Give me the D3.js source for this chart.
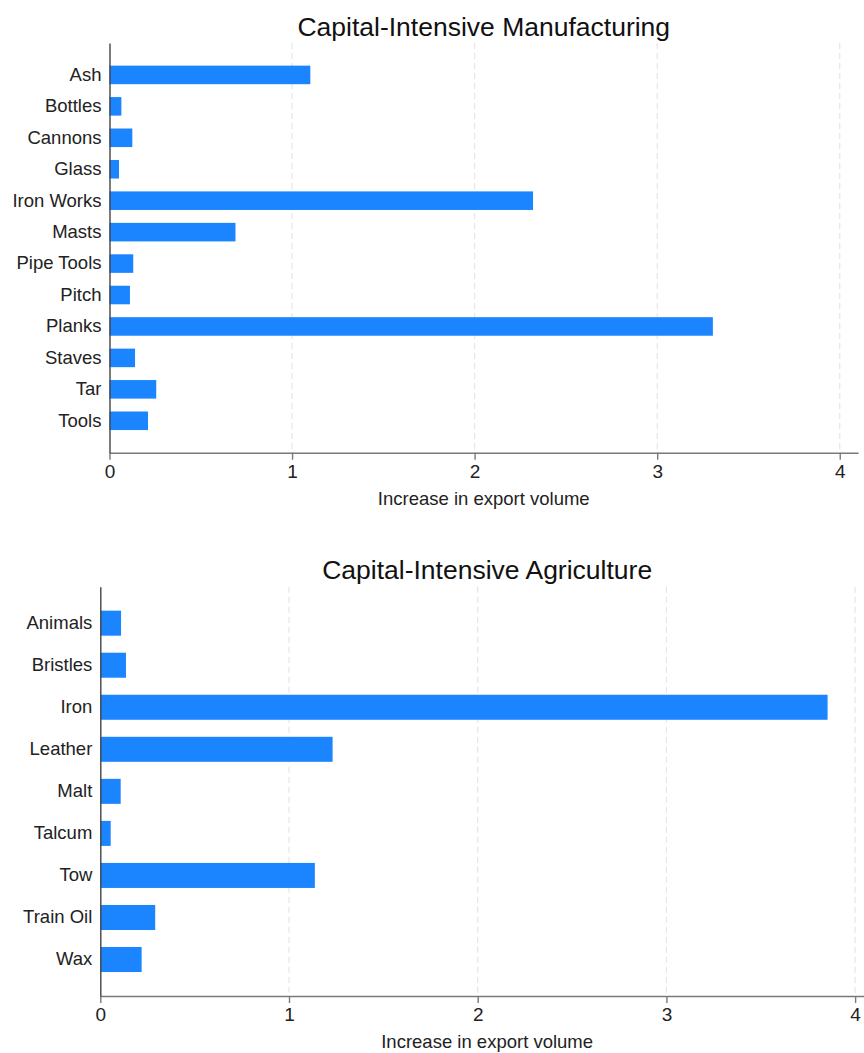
<!DOCTYPE html>
<html>
<head>
<meta charset="utf-8">
<script src="https://cdn.jsdelivr.net/npm/d3@7"></script>
<style>
  html, body { margin: 0; padding: 0; background: #fff; }
  svg { display: block; font-family: "Liberation Sans", Arial, sans-serif; }
</style>
</head>
<body>
<svg id="chart" width="864" height="1053"></svg>
<script>
// ---- Data ----
const manufCategories = ["Ash", "Bottles", "Cannons", "Glass", "Iron Works", "Masts", "Pipe Tools", "Pitch", "Planks", "Staves", "Tar", "Tools"];
const manufValues = [1.10, 0.065, 0.125, 0.052, 2.32, 0.69, 0.13, 0.112, 3.305, 0.14, 0.256, 0.211];

const agriCategories = ["Animals", "Bristles", "Iron", "Leather", "Malt", "Talcum", "Tow", "Train Oil", "Wax"];
const agriValues = [0.11, 0.136, 3.854, 1.231, 0.108, 0.055, 1.137, 0.291, 0.219];

const xTicks = [0, 1, 2, 3, 4];
const panelTitles = ["Capital-Intensive Manufacturing", "Capital-Intensive Agriculture"];
const xAxisTitle = "Increase in export volume";

// ---- Drawing ----
const svg = d3.select("#chart");
const barColor = "#1a85ff";

function panel(cfg) {
  const g = svg.append("g");
  const x = d3.scaleLinear().domain([0, 4.1]).range([cfg.left, cfg.right]);
  const y = d3.scaleBand().domain(cfg.categories).range([cfg.top, cfg.bottom])
    .paddingInner(cfg.pi).paddingOuter(cfg.po);

  // gridlines
  g.append("g").selectAll("line").data(xTicks.filter(d => d > 0)).join("line")
    .attr("x1", d => x(d)).attr("x2", d => x(d))
    .attr("y1", cfg.top).attr("y2", cfg.bottom)
    .attr("stroke", "#e6e6e6").attr("stroke-width", 1.2)
    .attr("stroke-dasharray", "6,4");

  // bars
  g.append("g").selectAll("rect").data(cfg.categories).join("rect")
    .attr("x", x(0))
    .attr("y", d => y(d))
    .attr("width", (d, i) => x(cfg.values[i]) - x(0))
    .attr("height", y.bandwidth())
    .attr("fill", barColor);

  // x axis
  const xAxis = d3.axisBottom(x).tickValues(xTicks).tickFormat(d3.format("d"))
    .tickSize(7).tickSizeOuter(0).tickPadding(5);
  const xa = g.append("g").attr("transform", `translate(0,${cfg.bottom})`).call(xAxis);
  xa.select(".domain").attr("stroke", "#7a7a7a").attr("stroke-width", 1.4);
  xa.selectAll(".tick line").attr("stroke", "#7a7a7a").attr("stroke-width", 1.4);
  xa.selectAll(".tick text").attr("font-size", 19).attr("fill", "#222")
    .attr("font-family", "Liberation Sans, Arial, sans-serif");

  // y axis
  const yAxis = d3.axisLeft(y).tickSize(0).tickPadding(8);
  const ya = g.append("g").attr("transform", `translate(${cfg.left},0)`).call(yAxis);
  ya.select(".domain").attr("stroke", "#444").attr("stroke-width", 1.4);
  ya.selectAll(".tick text").attr("font-size", 18.5).attr("fill", "#222")
    .attr("font-family", "Liberation Sans, Arial, sans-serif");

  // title
  g.append("text")
    .attr("x", (cfg.left + cfg.right) / 2).attr("y", cfg.titleY)
    .attr("text-anchor", "middle").attr("font-size", 26.5).attr("fill", "#111")
    .text(cfg.title);

  // x axis title
  g.append("text")
    .attr("x", (cfg.left + cfg.right) / 2).attr("y", cfg.bottom + 52)
    .attr("text-anchor", "middle").attr("font-size", 18.5).attr("fill", "#222")
    .text(xAxisTitle);
}

panel({
  categories: manufCategories, values: manufValues,
  left: 109.5, right: 858, top: 43, bottom: 452.7,
  pi: 0.41, po: 0.72, titleY: 36, title: panelTitles[0]
});

panel({
  categories: agriCategories, values: agriValues,
  left: 100.3, right: 874, top: 586.7, bottom: 996,
  pi: 0.405, po: 0.57, titleY: 579, title: panelTitles[1]
});
</script>
</body>
</html>
